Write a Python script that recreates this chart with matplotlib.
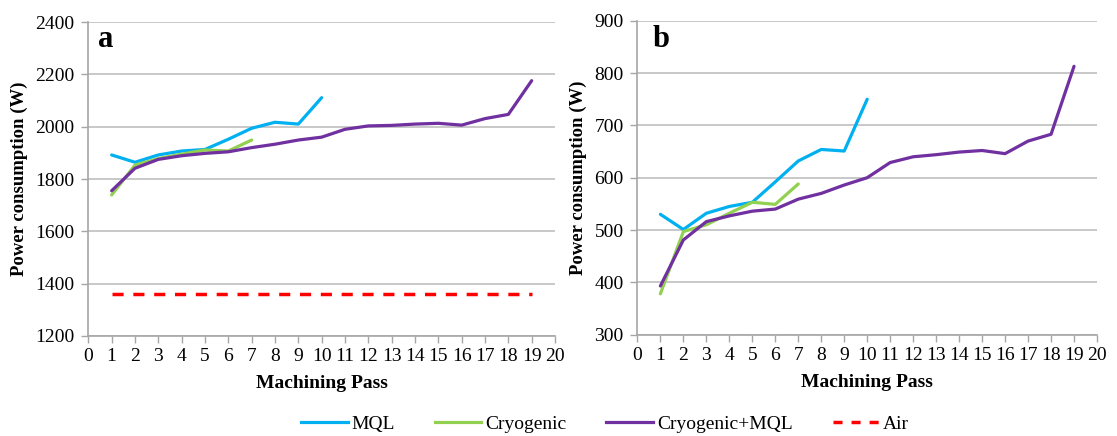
import matplotlib
matplotlib.use("Agg")
import matplotlib.pyplot as plt

plt.rcParams['font.family'] = ['Liberation Serif', 'DejaVu Serif']

passes_mql = list(range(1, 11))
passes_cryo = list(range(1, 8))
passes_cm = list(range(1, 20))
air_x = [1, 19]

a_mql = [1892, 1864, 1892, 1907, 1913, 1952, 1994, 2017, 2010, 2111]
a_cryo = [1739, 1853, 1878, 1895, 1911, 1907, 1949]
a_cm = [1755, 1841, 1875, 1889, 1898, 1904, 1920, 1933, 1949, 1960, 1990, 2003,
        2005, 2010, 2013, 2006, 2031, 2047, 2176]
a_air = [1362, 1362]

b_mql = [530, 501, 532, 545, 553, 592, 632, 654, 651, 750]
b_cryo = [378, 497, 510, 532, 553, 549, 588]
b_cm = [393, 481, 516, 527, 536, 540, 559, 570, 586, 600, 629, 640, 644, 649,
        652, 646, 670, 683, 813]

xticks = list(range(0, 21))
a_yticks = [1200, 1400, 1600, 1800, 2000, 2200, 2400]
b_yticks = [300, 400, 500, 600, 700, 800, 900]

C_MQL = '#00B0F0'
C_CRYO = '#92D050'
C_CM = '#7030A0'
C_AIR = '#FF0000'

W, H = 1117, 436
fig = plt.figure(figsize=(W / 100, H / 100), dpi=100)


def px_axes(x0, x1, ytop, ybot):
    return fig.add_axes([x0 / W, (H - ybot) / H, (x1 - x0) / W, (ybot - ytop) / H])


axa = px_axes(88.3, 555.0, 22.1, 335.9)
axb = px_axes(637.4, 1097.0, 20.8, 334.6)

lw = 2.3
panels = [(axa, a_mql, a_cryo, a_cm, a_yticks, 'a', 0.021, 0.921),
          (axb, b_mql, b_cryo, b_cm, b_yticks, 'b', 0.034, 0.9165)]
for ax, mql, cryo, cm, yt, letter, lx, ly in panels:
    ax.plot(passes_mql, mql, color=C_MQL, lw=lw, label='MQL', solid_capstyle='round')
    ax.plot(passes_cryo, cryo, color=C_CRYO, lw=lw, label='Cryogenic', solid_capstyle='round')
    ax.plot(passes_cm, cm, color=C_CM, lw=lw, label='Cryogenic+MQL', solid_capstyle='round')
    ax.set_xlim(0, 20)
    ax.set_ylim(yt[0], yt[-1])
    ax.set_xticks(xticks)
    ax.set_yticks(yt)
    ax.grid(axis='y', color='#BFBFBF', lw=1.2)
    ax.set_axisbelow(True)
    for s in ['top', 'right']:
        ax.spines[s].set_visible(False)
    for s in ['left', 'bottom']:
        ax.spines[s].set_color('#A6A6A6')
        ax.spines[s].set_linewidth(1.2)
    ax.tick_params(axis='both', colors='#A6A6A6', labelcolor='black', labelsize=14,
                   length=5, width=1.0, direction='out')
    ax.tick_params(axis='y', pad=5)
    ax.tick_params(axis='x', pad=4)
    ax.set_xlabel('Machining Pass', fontsize=14, fontweight='bold', labelpad=7)
    ax.set_ylabel('Power consumption (W)', fontsize=13.5, fontweight='bold', labelpad=5)
    ax.text(lx, ly, letter, transform=ax.transAxes, fontsize=22,
            fontweight='bold', va='baseline', ha='left')

axa.plot(air_x, a_air, color=C_AIR, lw=2.5, ls=(0, (3.2, 2.8)), label='Air')

handles = [
    plt.Line2D([], [], color=C_MQL, lw=lw),
    plt.Line2D([], [], color=C_CRYO, lw=lw),
    plt.Line2D([], [], color=C_CM, lw=lw),
    plt.Line2D([], [], color=C_AIR, lw=2.5, ls=(0, (2.6, 2.6))),
]
labels = ['MQL', 'Cryogenic', 'Cryogenic+MQL', 'Air']
fig.legend(handles, labels, loc='center', bbox_to_anchor=(605 / W, 12 / H), ncol=4,
           frameon=False, fontsize=14, handlelength=2.4, handletextpad=0.2,
           columnspacing=2.05, borderpad=0.1)

fig.savefig('out.png', dpi=100)
